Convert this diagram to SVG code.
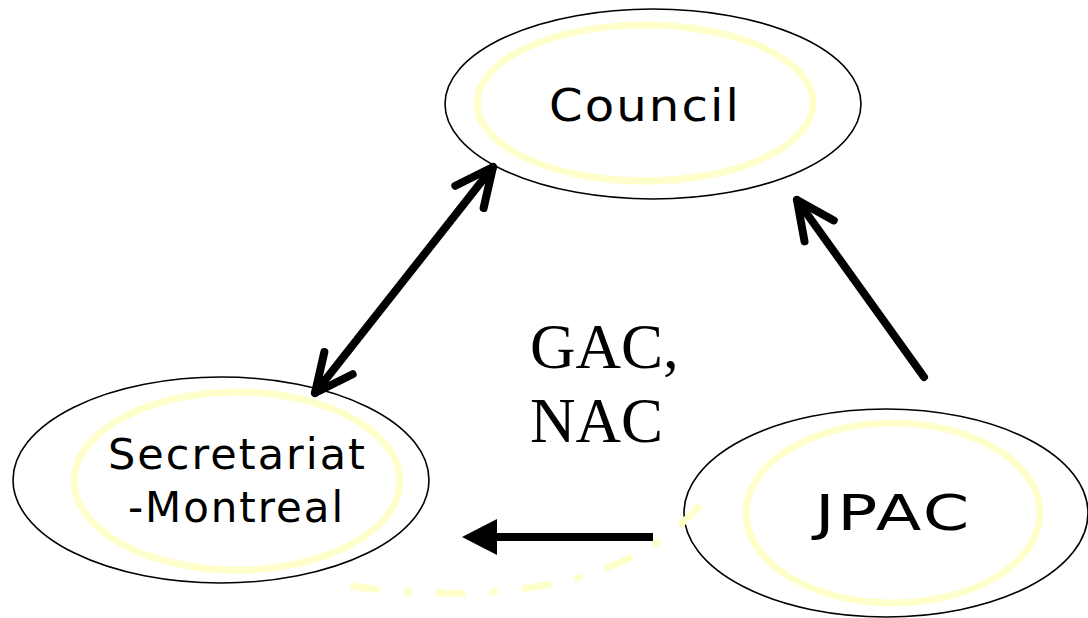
<svg xmlns="http://www.w3.org/2000/svg" width="1088" height="618" viewBox="0 0 1088 618">
<style>
.outer{fill:none;stroke:#000;stroke-width:1.6}
.inner{fill:none;stroke:#FFFFCC;stroke-width:7}
.lbl{font-family:"DejaVu Sans","Liberation Sans",Arial,sans-serif;fill:#000;letter-spacing:2px}
.serif{font-family:"Liberation Serif","Times New Roman",serif;font-size:63px;fill:#000}
.conn{fill:none;stroke:#000;stroke-width:8}
</style>
<defs>
<marker id="chev" markerUnits="userSpaceOnUse" viewBox="-50 -30 60 60" refX="0" refY="0" markerWidth="60" markerHeight="60" orient="auto-start-reverse" overflow="visible">
<path d="M -38 -18 L 0 0 L -38 18" fill="none" stroke="#000" stroke-width="8" stroke-linecap="round" stroke-linejoin="round"/>
</marker>
<marker id="tri" markerUnits="userSpaceOnUse" viewBox="-2 -20 40 40" refX="0" refY="0" markerWidth="40" markerHeight="40" orient="auto" overflow="visible">
<path d="M 0 -18 L 35 0 L 0 18 Z" fill="#000"/>
</marker>
</defs>
<rect width="1088" height="618" fill="#fff"/>
<g id="council">
<ellipse class="outer" cx="653" cy="104" rx="208" ry="95"/>
<ellipse class="inner" cx="645" cy="103" rx="168" ry="78"/>
<text class="lbl" x="549" y="121" font-size="45" textLength="192" lengthAdjust="spacingAndGlyphs">Council</text>
</g>
<g id="secretariat">
<ellipse class="outer" cx="221" cy="480" rx="208" ry="103"/>
<ellipse class="inner" cx="237" cy="481" rx="163" ry="89"/>
<text class="lbl" x="108" y="469" font-size="43" textLength="259" lengthAdjust="spacingAndGlyphs">Secretariat</text>
<text class="lbl" x="128" y="522" font-size="43" textLength="217" lengthAdjust="spacingAndGlyphs">-Montreal</text>
</g>
<g id="jpac">
<ellipse class="outer" cx="886" cy="513" rx="202" ry="104"/>
<ellipse class="inner" cx="893" cy="513" rx="147" ry="90"/>
<text class="lbl" x="815" y="530" font-size="50" textLength="157" lengthAdjust="spacingAndGlyphs">JPAC</text>
</g>
<g id="label-gac-nac">
<text class="serif" x="530" y="368">GAC,</text>
<text class="serif" x="530" y="442">NAC</text>
</g>
<g id="connectors">
<path class="conn" d="M 315 393 L 493 167" stroke-linecap="round" marker-start="url(#chev)" marker-end="url(#chev)"/>
<path class="conn" d="M 924 377 L 797 200" stroke-linecap="round" marker-end="url(#chev)"/>
<path class="conn" d="M 653 537 L 497 537" marker-end="url(#tri)"/>
<path d="M 350 586 C 450 600 620 605 707 497" fill="none" stroke="#FFFFCC" stroke-width="7" stroke-dasharray="30 24 8 24"/>
</g>
</svg>
